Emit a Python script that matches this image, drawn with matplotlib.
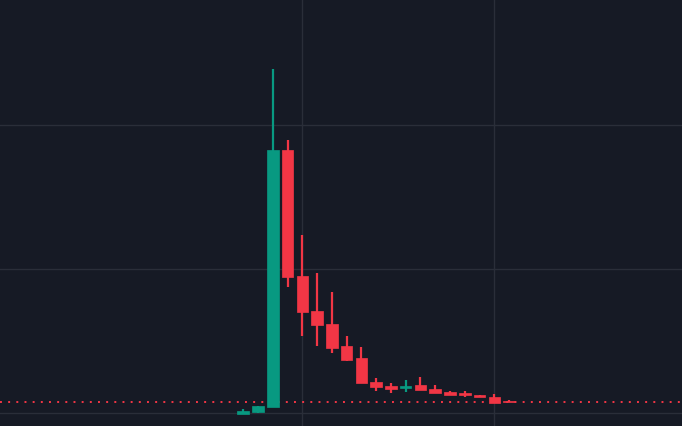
import matplotlib
matplotlib.use("Agg")
import matplotlib.pyplot as plt
from matplotlib.patches import Rectangle

# OHLC data
opens  = [0.992, 1.002, 1.040, 2.824, 1.948, 1.706, 1.616, 1.463, 1.380, 1.213,
          1.185, 1.172, 1.192, 1.165, 1.144, 1.137, 1.123, 1.109, 1.081]
highs  = [1.028, 1.048, 3.387, 2.894, 2.234, 1.970, 1.838, 1.533, 1.456, 1.241,
          1.206, 1.227, 1.248, 1.192, 1.150, 1.151, 1.123, 1.130, 1.088]
lows   = [0.992, 1.000, 1.040, 1.872, 1.533, 1.463, 1.415, 1.359, 1.206, 1.151,
          1.137, 1.144, 1.158, 1.137, 1.123, 1.109, 1.109, 1.067, 1.074]
closes = [1.012, 1.046, 2.824, 1.941, 1.699, 1.609, 1.449, 1.366, 1.206, 1.178,
          1.165, 1.185, 1.158, 1.137, 1.123, 1.123, 1.109, 1.067, 1.074]
last_price = closes[-1]

BG = "#161a25"
GRID = "#2a2e39"
UP = "#089981"
DOWN = "#f23645"

fig = plt.figure(figsize=(6.82, 4.26), dpi=100)
fig.patch.set_facecolor(BG)
ax = fig.add_axes([0, 0, 1, 1])
ax.set_facecolor(BG)

body_w = 0.78
for i, (o, h, l, c) in enumerate(zip(opens, highs, lows, closes)):
    col = UP if c >= o else DOWN
    ax.vlines(i, l, h, color=col, linewidth=1.6, zorder=3)
    bottom = min(o, c)
    height = max(abs(c - o), 0.006)
    ax.add_patch(Rectangle((i - body_w / 2, bottom), body_w, height,
                           facecolor=col, edgecolor=col, linewidth=0.5, zorder=4))

ax.axhline(last_price, color=DOWN, linestyle=(0, (1, 3.2)), linewidth=1.4, zorder=2)

ax.set_xlim(-16.47, 29.71)
ax.set_ylim(0.9076, 3.866)
ax.set_xticks([4, 17])
ax.set_yticks([1.0, 2.0, 3.0])
ax.grid(True, color=GRID, linewidth=1.0, zorder=0)
ax.tick_params(length=0, labelbottom=False, labelleft=False)
for s in ax.spines.values():
    s.set_visible(False)

fig.savefig("out.png", dpi=100, facecolor=BG)
